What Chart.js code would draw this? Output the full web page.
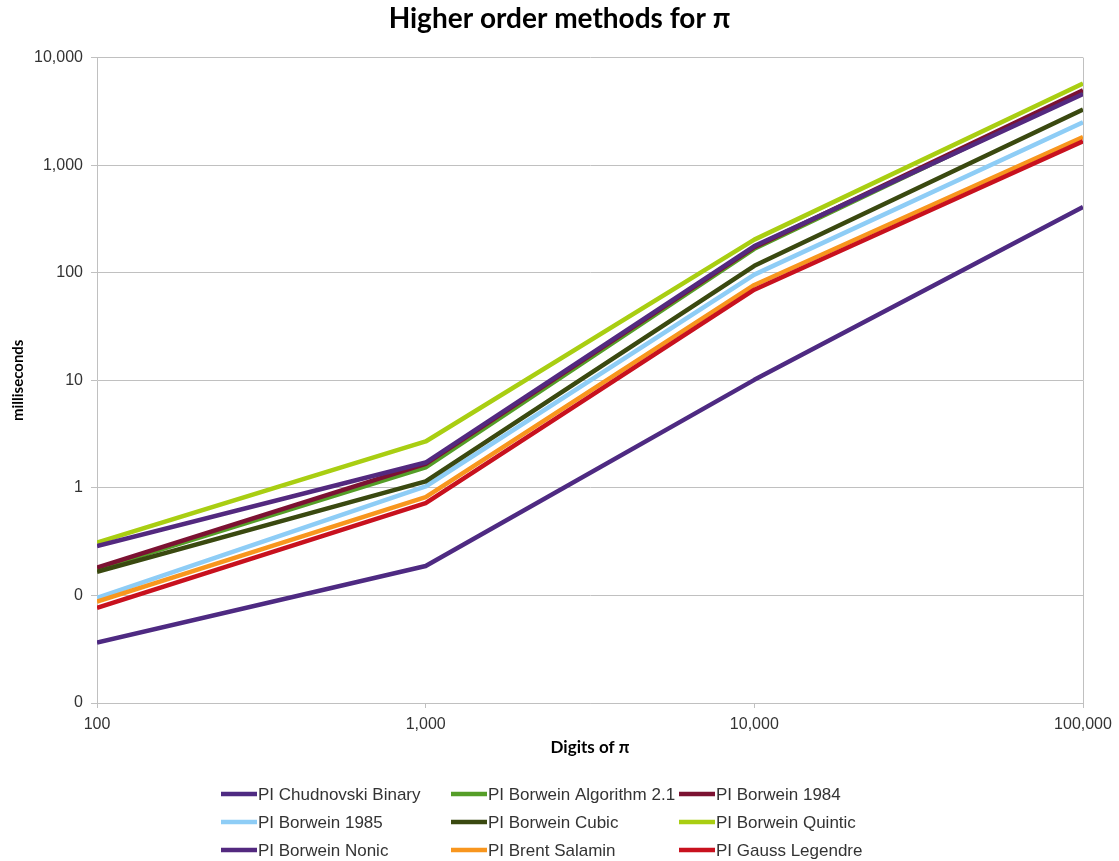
<!DOCTYPE html>
<html>
<head>
<meta charset="utf-8">
<script src="https://cdn.jsdelivr.net/npm/chart.js@4/dist/chart.umd.min.js"></script>
<style>
  html, body { margin: 0; padding: 0; background: #fff; }
  #wrap { width: 1119px; height: 861px; }
</style>
</head>
<body>
<div id="wrap"><canvas id="chart"></canvas></div>
<script>
const digits = [100, 1000, 10000, 100000];

const chudnovskiBinary = [0.0364, 0.188, 10.1, 408];
const borweinAlg21 = [0.175, 1.55, 167, 4810];
const borwein1984 = [0.181, 1.67, 173, 4960];
const borwein1985 = [0.095, 1.03, 96, 2500];
const borweinCubic = [0.166, 1.15, 116, 3285];
const borweinQuintic = [0.31, 2.70, 203, 5730];
const borweinNonic = [0.288, 1.72, 177, 4595];
const brentSalamin = [0.0875, 0.82, 77, 1830];
const gaussLegendre = [0.0765, 0.72, 69.5, 1665];

const seriesNames = [
  'PI Chudnovski Binary', 'PI Borwein Algorithm 2.1', 'PI Borwein 1984',
  'PI Borwein 1985', 'PI Borwein Cubic', 'PI Borwein Quintic',
  'PI Borwein Nonic', 'PI Brent Salamin', 'PI Gauss Legendre'
];
const seriesValues = [
  chudnovskiBinary, borweinAlg21, borwein1984,
  borwein1985, borweinCubic, borweinQuintic,
  borweinNonic, brentSalamin, gaussLegendre
];
const seriesColors = [
  '#4e2a82', '#559e28', '#7c1232',
  '#8ecdf6', '#3a4910', '#a9ce12',
  '#53297f', '#f8961e', '#c8111e'
];

const xTickValues = [100, 1000, 10000, 100000];
const xTickLabels = ['100', '1,000', '10,000', '100,000'];
const yTickValues = [0.01, 0.1, 1, 10, 100, 1000, 10000];
const yTickLabels = ['0', '0', '1', '10', '100', '1,000', '10,000'];

const GRID = '#c0c0c0';
const TEXT = '#333333';

// legend drawn as a 3 x 3 grid under the plot, like the original
const gridLegend = {
  id: 'gridLegend',
  afterDraw(chart, args, opts) {
    const ctx = chart.ctx;
    ctx.save();
    ctx.font = '17px "Liberation Sans", Arial, sans-serif';
    ctx.textBaseline = 'middle';
    ctx.fillStyle = TEXT;
    chart.data.datasets.forEach((ds, i) => {
      const col = i % 3, row = Math.floor(i / 3);
      const x = opts.cols[col], y = opts.rows[row];
      ctx.strokeStyle = ds.borderColor;
      ctx.lineWidth = 4.5;
      ctx.lineCap = 'butt';
      ctx.beginPath();
      ctx.moveTo(x, y);
      ctx.lineTo(x + 36, y);
      ctx.stroke();
      ctx.fillText(ds.label, x + 37, y + 1);
    });
    ctx.restore();
  }
};

new Chart(document.getElementById('chart'), {
  type: 'line',
  data: {
    labels: digits,
    datasets: seriesNames.map((name, i) => ({
      label: name,
      data: digits.map((d, j) => ({ x: d, y: seriesValues[i][j] })),
      borderColor: seriesColors[i],
      backgroundColor: seriesColors[i],
      borderWidth: 4.5,
      borderJoinStyle: 'round',
      pointRadius: 0,
      tension: 0,
      order: seriesNames.length - i,
    })),
  },
  options: {
    responsive: true,
    maintainAspectRatio: false,
    animation: false,
    layout: { padding: { left: 0, right: 0, top: 0, bottom: 103 } },
    plugins: {
      legend: { display: false },
      tooltip: { enabled: false },
      title: {
        display: true,
        text: 'Higher order methods for π',
        color: '#000',
        font: { family: 'Lato', size: 28, weight: 'bold', lineHeight: 1.2 },
        padding: { top: 2, bottom: 22 },
      },
      gridLegend: {
        cols: [221, 451, 679],
        rows: [794, 822, 850],
      },
    },
    scales: {
      x: {
        type: 'logarithmic',
        min: 100,
        max: 100000,
        afterBuildTicks: (scale) => { scale.ticks = xTickValues.map(v => ({ value: v })); },
        afterFit: (scale) => { scale.height = 55; },
        ticks: {
          color: TEXT,
          font: { family: 'Liberation Sans', size: 16 },
          padding: 7,
          maxRotation: 0,
          autoSkip: false,
          callback: (v) => xTickLabels[xTickValues.indexOf(v)],
        },
        grid: {
          color: (c) => (c.tick && c.tick.value === 100000 ? GRID : 'rgba(0,0,0,0)'),
          tickColor: GRID,
          tickLength: 5,
        },
        border: { color: GRID },
        title: {
          display: true,
          text: 'Digits of π',
          color: '#000',
          font: { family: 'Lato', size: 17, weight: 'bold' },
          padding: { top: 0, bottom: 0 },
        },
      },
      y: {
        type: 'logarithmic',
        min: 0.01,
        max: 10000,
        afterBuildTicks: (scale) => { scale.ticks = yTickValues.map(v => ({ value: v })); },
        afterFit: (scale) => { scale.width = 97; },
        ticks: {
          color: TEXT,
          font: { family: 'Liberation Sans', size: 16 },
          padding: 8,
          autoSkip: false,
          callback: (v) => yTickLabels[yTickValues.indexOf(v)],
        },
        grid: {
          color: GRID,
          tickLength: 6,
        },
        border: { color: GRID },
        title: {
          display: true,
          text: 'milliseconds',
          color: '#000',
          font: { family: 'Lato', size: 15, weight: 'bold' },
          padding: { top: 9, bottom: 0 },
        },
      },
      // empty right-hand axis that only reserves the margin right of the plot
      spacer: {
        type: 'linear',
        position: 'right',
        display: true,
        min: 0,
        max: 1,
        afterFit: (scale) => { scale.width = 36; },
        ticks: { display: false },
        grid: { display: false, drawTicks: false },
        border: { display: false },
      },
    },
  },
  plugins: [gridLegend],
});
</script>
</body>
</html>
